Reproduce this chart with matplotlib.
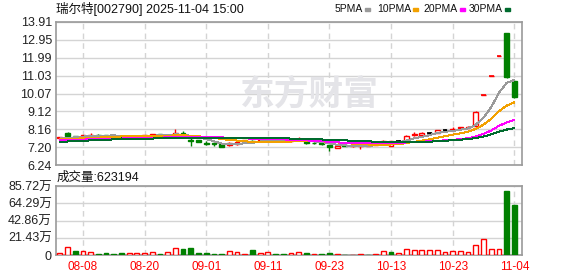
import numpy as np
import matplotlib.pyplot as plt
from matplotlib.patches import Rectangle

plt.rcParams['font.family'] = ['Liberation Sans', 'Noto Sans CJK SC']

title = '瑞尔特[002790] 2025-11-04 15:00'
last_volume = 623194

dates = ['08-05', '08-06', '08-07', '08-08', '08-11', '08-12', '08-13', '08-14', '08-15', '08-18',
         '08-19', '08-20', '08-21', '08-22', '08-25', '08-26', '08-27', '08-28', '08-29', '09-01',
         '09-02', '09-03', '09-04', '09-05', '09-08', '09-09', '09-10', '09-11', '09-12', '09-15',
         '09-16', '09-17', '09-18', '09-19', '09-22', '09-23', '09-24', '09-25', '09-26', '09-29',
         '09-30', '10-09', '10-10', '10-13', '10-14', '10-15', '10-16', '10-17', '10-20', '10-21',
         '10-22', '10-23', '10-24', '10-27', '10-28', '10-29', '10-30', '10-31', '11-03', '11-04']

opens = [7.67, 7.95, 7.80, 7.77, 7.80, 7.86, 7.86, 7.80, 7.78, 7.74,
         7.75, 7.76, 7.84, 7.88, 7.84, 7.80, 7.98, 7.59, 7.57, 7.41,
         7.44, 7.35, 7.31, 7.37, 7.50, 7.55, 7.52, 7.56, 7.58, 7.55,
         7.54, 7.60, 7.48, 7.43, 7.43, 7.31, 7.17, 7.31, 7.26, 7.24,
         7.28, 7.31, 7.48, 7.26, 7.53, 7.55, 7.84, 7.86, 7.97, 7.96,
         8.11, 8.14, 8.21, 8.25, 8.32, 10.01, 11.01, 12.11, 13.32, 10.74]
highs = [7.76, 8.02, 7.81, 7.87, 7.96, 7.91, 7.87, 7.82, 7.80, 7.78,
         7.81, 7.87, 7.92, 7.89, 7.88, 8.16, 8.07, 7.68, 7.58, 7.54,
         7.50, 7.38, 7.46, 7.49, 7.59, 7.59, 7.58, 7.62, 7.60, 7.57,
         7.64, 7.74, 7.50, 7.48, 7.46, 7.33, 7.28, 7.32, 7.33, 7.33,
         7.33, 7.35, 7.60, 7.54, 7.59, 7.83, 8.00, 8.01, 8.02, 8.12,
         8.16, 8.27, 8.30, 8.35, 9.11, 10.01, 11.01, 12.11, 13.32, 10.78]
lows = [7.66, 7.75, 7.70, 7.75, 7.79, 7.77, 7.79, 7.76, 7.72, 7.72,
        7.74, 7.75, 7.83, 7.82, 7.82, 7.80, 7.71, 7.27, 7.45, 7.32,
        7.27, 7.21, 7.25, 7.33, 7.47, 7.41, 7.50, 7.54, 7.53, 7.50,
        7.46, 7.58, 7.38, 7.34, 7.32, 6.97, 7.15, 7.24, 7.22, 7.09,
        7.26, 7.29, 7.45, 7.25, 7.49, 7.52, 7.82, 7.85, 7.92, 7.94,
        8.07, 8.11, 8.20, 8.20, 8.30, 10.01, 11.01, 12.11, 10.90, 9.86]
closes = [7.75, 7.80, 7.71, 7.86, 7.87, 7.83, 7.80, 7.78, 7.74, 7.76,
          7.80, 7.86, 7.88, 7.84, 7.85, 7.98, 7.80, 7.54, 7.46, 7.38,
          7.36, 7.23, 7.41, 7.45, 7.57, 7.51, 7.57, 7.59, 7.55, 7.53,
          7.58, 7.65, 7.40, 7.40, 7.34, 7.20, 7.27, 7.25, 7.29, 7.31,
          7.30, 7.32, 7.55, 7.53, 7.53, 7.82, 7.92, 7.97, 7.97, 8.11,
          8.11, 8.19, 8.29, 8.30, 9.10, 10.01, 11.01, 12.11, 10.95, 9.90]
prev_close = 7.70  # close of the day before the first bar

# volume in 万
volume = [2.9, 9.5, 5.0, 4.5, 3.3, 1.2, 2.5, 1.2, 2.5, 2.5,
          2.5, 2.5, 3.3, 1.2, 3.3, 8.7, 7.9, 8.7, 2.5, 2.5,
          1.2, 1.2, 4.5, 3.3, 1.2, 6.2, 2.5, 3.3, 1.2, 1.2,
          2.5, 3.3, 2.5, 1.2, 1.2, 2.5, 1.2, 0.5, 0.5, 1.2,
          0.5, 1.2, 4.5, 3.7, 2.5, 7.0, 6.0, 6.0, 6.0, 6.0,
          3.3, 4.5, 4.5, 3.7, 12.8, 19.4, 7.8, 7.4, 79.5, 62.32]

ma5 = [7.66, 7.70, 7.72, 7.76, 7.80, 7.81, 7.81, 7.83, 7.80, 7.78,
       7.78, 7.79, 7.81, 7.83, 7.85, 7.88, 7.87, 7.80, 7.73, 7.63,
       7.51, 7.39, 7.37, 7.37, 7.40, 7.43, 7.50, 7.54, 7.56, 7.55,
       7.56, 7.58, 7.54, 7.51, 7.47, 7.40, 7.32, 7.29, 7.27, 7.26,
       7.28, 7.29, 7.35, 7.40, 7.45, 7.55, 7.67, 7.75, 7.84, 7.96,
       8.02, 8.07, 8.13, 8.20, 8.40, 8.78, 9.34, 10.11, 10.64, 10.80]
ma10 = [7.63, 7.64, 7.65, 7.67, 7.69, 7.71, 7.73, 7.75, 7.77, 7.79,
        7.80, 7.80, 7.82, 7.82, 7.81, 7.83, 7.83, 7.81, 7.78, 7.74,
        7.70, 7.63, 7.59, 7.55, 7.52, 7.47, 7.45, 7.45, 7.46, 7.48,
        7.50, 7.54, 7.54, 7.54, 7.51, 7.48, 7.45, 7.42, 7.39, 7.37,
        7.34, 7.31, 7.32, 7.34, 7.36, 7.42, 7.48, 7.55, 7.62, 7.70,
        7.78, 7.87, 7.94, 8.02, 8.18, 8.40, 8.71, 9.12, 9.42, 9.60]
ma20 = [7.57, 7.58, 7.59, 7.60, 7.62, 7.63, 7.64, 7.65, 7.66, 7.67,
        7.68, 7.69, 7.70, 7.71, 7.72, 7.73, 7.74, 7.75, 7.76, 7.76,
        7.75, 7.72, 7.70, 7.68, 7.67, 7.65, 7.64, 7.63, 7.62, 7.61,
        7.60, 7.59, 7.56, 7.54, 7.52, 7.48, 7.45, 7.44, 7.43, 7.42,
        7.42, 7.42, 7.43, 7.44, 7.43, 7.45, 7.47, 7.49, 7.51, 7.54,
        7.56, 7.59, 7.63, 7.68, 7.77, 7.91, 8.09, 8.34, 8.52, 8.65]
ma30 = [7.48, 7.50, 7.52, 7.54, 7.56, 7.58, 7.60, 7.61, 7.62, 7.63,
        7.64, 7.65, 7.66, 7.67, 7.68, 7.69, 7.70, 7.70, 7.70, 7.70,
        7.69, 7.69, 7.68, 7.68, 7.68, 7.67, 7.67, 7.67, 7.67, 7.67,
        7.66, 7.66, 7.65, 7.63, 7.61, 7.59, 7.58, 7.56, 7.54, 7.53,
        7.51, 7.49, 7.48, 7.47, 7.46, 7.46, 7.46, 7.47, 7.49, 7.52,
        7.54, 7.57, 7.60, 7.63, 7.68, 7.77, 7.88, 8.03, 8.14, 8.22]

price_ticks = [6.24, 7.20, 8.16, 9.12, 10.07, 11.03, 11.99, 12.95, 13.91]
vol_ticks = [0, 21.43, 42.86, 64.29, 85.72]
date_ticks = ['08-08', '08-20', '09-01', '09-11', '09-23', '10-13', '10-23', '11-04']
ma_names = ['5PMA', '10PMA', '20PMA', '30PMA']

RED = '#ff0000'
GREEN = '#008000'
GRID = '#d4d4d4'
FRAME = '#9a9a9a'
ma_colors = ['#9a9a9a', '#f2a100', '#ff00ff', '#006b2e']

W, H = 578, 276
fig = plt.figure(figsize=(W / 100, H / 100), dpi=100)
ax = fig.add_axes([56 / W, (H - 165) / H, 466 / W, 143 / H])
axv = fig.add_axes([56 / W, (H - 255) / H, 466 / W, 69 / H])

x = np.arange(len(dates))
o = np.array(opens)
c = np.array(closes)
pc = np.concatenate([[prev_close], c[:-1]])

# candle colours: body by close vs open, doji by close vs previous close
cand_col = []
for oi, ci, pi in zip(o, c, pc):
    if ci > oi:
        cand_col.append(RED)
    elif ci < oi:
        cand_col.append(GREEN)
    elif ci > pi:
        cand_col.append(RED)
    elif ci < pi:
        cand_col.append(GREEN)
    else:
        cand_col.append('black')
vol_up = c >= pc

bw = 0.62
ax.vlines(x, lows, highs, colors=cand_col, lw=1, zorder=2)
body_lo = np.minimum(o, c)
body_h = np.abs(c - o)
face = ['white' if ci > oi else col for oi, ci, col in zip(o, c, cand_col)]
ax.bar(x, body_h, bottom=body_lo, width=bw, color=face, edgecolor=cand_col,
       lw=1, zorder=3)
doji = body_h == 0
ax.hlines(c[doji], x[doji] - bw / 2, x[doji] + bw / 2, colors=np.array(cand_col)[doji],
          lw=1.2, zorder=3)

for vals, col in zip([ma5, ma10, ma20, ma30], ma_colors):
    ax.plot(x, vals, color=col, lw=0.72, zorder=4, antialiased=False)

# volume
vcol = [RED if u else GREEN for u in vol_up]
vface = ['white' if u else GREEN for u in vol_up]
axv.bar(x, volume, width=bw, color=vface, edgecolor=vcol, lw=1, zorder=3)

date_pos = [dates.index(d) for d in date_ticks]
for a in (ax, axv):
    a.set_xlim(-0.5, 60.0)
    a.set_xticks(date_pos)
    a.grid(axis='x', color=GRID, ls=(0, (4, 3)), lw=1)
    a.grid(axis='y', color=GRID, ls='-', lw=1)
    a.set_axisbelow(True)
    for s in a.spines.values():
        s.set_color(FRAME)
        s.set_linewidth(1.2)
    a.tick_params(length=0, labelsize=9, colors='#222222', pad=3)

ax.set_ylim(price_ticks[0], price_ticks[-1])
ax.set_yticks(price_ticks)
ax.set_yticklabels([f'{v:.2f}' for v in price_ticks])
ax.set_xticklabels([])

axv.set_ylim(0, vol_ticks[-1])
axv.set_yticks(vol_ticks)
axv.set_yticklabels(['0'] + [f'{v:.2f}万' for v in vol_ticks[1:]])
axv.set_xticklabels(date_ticks)
axv.tick_params(axis='x', colors=RED, labelsize=8.5, pad=4)

# watermark
fig.text(240 / W, 1 - 94 / H, '东方财富', fontsize=25, fontweight='bold',
         color='#e4e4e8', family='Noto Sans CJK SC', va='center', ha='left', zorder=0)

fig.text(56 / W, 1 - 9 / H, title, fontsize=9, va='center', ha='left', color='#111111')
fig.text(57 / W, 1 - 178 / H, f'成交量:{last_volume}', fontsize=9, va='center',
         ha='left', color='#111111')

# legend: label followed by a small colour bar
sq_left = [365, 413, 460, 505]
for name, col, sx in zip(ma_names, ma_colors, sq_left):
    fig.text((sx - 2) / W, 1 - 9 / H, name, fontsize=7.5, va='center', ha='right',
             color='#111111')
    fig.patches.append(Rectangle((sx / W, 1 - 10.5 / H), 5 / W, 2.5 / H,
                                 transform=fig.transFigure, color=col))

fig.savefig('out.png', dpi=100)
